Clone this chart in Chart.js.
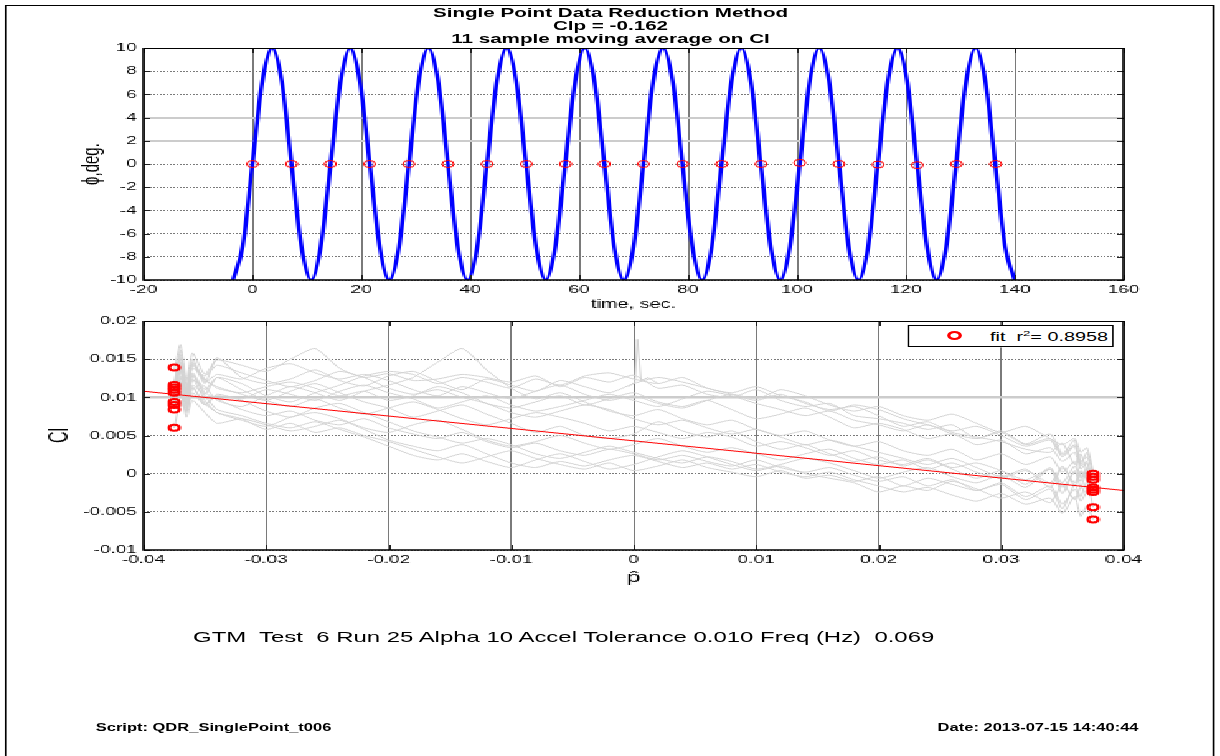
<!DOCTYPE html>
<html>
<head>
<meta charset="utf-8">
<script src="https://cdn.jsdelivr.net/npm/chart.js@4.4.1/dist/chart.umd.min.js"></script>
<style>
  html, body { margin: 0; padding: 0; background: #fff; overflow: hidden; }
  /* the whole sheet is laid out narrow and stretched sideways, like the printed figure */
  #sheet {
    position: absolute; left: 0; top: 0; width: 740px; height: 756px;
    transform: scaleX(1.65); transform-origin: 0 0;
    font-family: "Liberation Sans", Arial, sans-serif; color: #000;
  }
  #frame { position: absolute; left: 3px; top: 5px; width: 731px; height: 800px; border: 1px solid #000; }
  canvas { position: absolute; left: 0; image-rendering: pixelated; }
  #phiChart { top: 0; }
  #clChart { top: 300px; }
  .title { position: absolute; left: 0; top: 7px; width: 740px; text-align: center;
           font-weight: bold; font-size: 12.5px; line-height: 13px; }
  #legend { position: absolute; left: 550px; top: 325px; width: 123px; height: 20px;
            border: 1px solid #000; background: #fff; font-size: 12px; line-height: 20px; }
  #legend .mark { position: absolute; left: 23px; top: 5px; width: 5px; height: 5px;
                  border: 2px solid #f00; border-radius: 50%; }
  #legend .txt { position: absolute; left: 49px; top: 1px; white-space: nowrap; }
  #legend sup { font-size: 8px; line-height: 0; }
  .note { position: absolute; white-space: nowrap; }
  #runInfo { left: 117px; top: 629px; font-size: 14.5px; line-height: 16px; }
  #script { left: 58px; top: 722px; font-size: 10px; font-weight: bold; line-height: 12px; }
  #stamp { right: 50px; top: 722px; font-size: 10px; font-weight: bold; line-height: 12px; }
</style>
</head>
<body>
<div id="sheet">
  <div id="frame"></div>
  <div class="title">Single Point Data Reduction Method<br>Clp = -0.162<br>11 sample moving average on Cl</div>
  <canvas id="phiChart" width="740" height="320" style="width:740px;height:320px"></canvas>
  <canvas id="clChart" width="740" height="300" style="width:740px;height:300px"></canvas>
  <div id="legend"><div class="mark"></div><div class="txt">fit&nbsp; r<sup>2</sup>= 0.8958</div></div>
  <div class="note" id="runInfo">GTM&nbsp; Test&nbsp; 6 Run 25 Alpha 10 Accel Tolerance 0.010 Freq (Hz)&nbsp; 0.069</div>
  <div class="note" id="script">Script: QDR_SinglePoint_t006</div>
  <div class="note" id="stamp">Date: 2013-07-15 14:40:44</div>
</div>

<script>
// ---- roll angle history (top) ----
const phiTime = [
  -3.59, -1.80, 0.00, 1.80, 3.59, 5.39, 7.18, 8.98, 10.77, 12.57,
  14.36, 16.16, 17.95, 19.75, 21.54, 23.34, 25.13, 26.93, 28.72, 30.52,
  32.31, 34.11, 35.90, 37.70, 39.49, 41.29, 43.08, 44.88, 46.67, 48.47,
  50.26, 52.06, 53.85, 55.65, 57.44, 59.24, 61.03, 62.83, 64.62, 66.42,
  68.21, 70.01, 71.80, 73.60, 75.39, 77.19, 78.98, 80.78, 82.57, 84.37,
  86.16, 87.96, 89.75, 91.55, 93.34, 95.14, 96.93, 98.73, 100.52, 102.32,
  104.11, 105.91, 107.70, 109.50, 111.29, 113.09, 114.88, 116.68, 118.47, 120.27,
  122.06, 123.86, 125.65, 127.45, 129.24, 131.04, 132.83, 134.63, 136.42, 138.22,
  140.01
];
const phiDeg = [
  -10, -7.07, 0, 7.07, 10, 7.07, 0, -7.07, -10, -7.07,
  0, 7.07, 10, 7.07, 0, -7.07, -10, -7.07, 0, 7.07,
  10, 7.07, 0, -7.07, -10, -7.07, 0, 7.07, 10, 7.07,
  0, -7.07, -10, -7.07, 0, 7.07, 10, 7.07, 0, -7.07,
  -10, -7.07, 0, 7.07, 10, 7.07, 0, -7.07, -10, -7.07,
  0, 7.07, 10, 7.07, 0, -7.07, -10, -7.07, 0, 7.07,
  10, 7.07, 0, -7.07, -10, -7.07, 0, 7.07, 10, 7.07,
  0, -7.07, -10, -7.07, 0, 7.07, 10, 7.07, 0, -7.07,
  -10
];
// sample points picked at the half cycles
const pickTime = [0, 7.2, 14.3, 21.5, 28.7, 35.9, 43.1, 50.3, 57.5, 64.6,
                  71.8, 79.0, 86.2, 93.4, 100.5, 107.7, 114.9, 122.1, 129.3, 136.5];
const pickPhi = [0, 0, 0, 0, 0, 0, 0, 0, 0, 0,
                 0, 0, 0, 0, 0.1, 0, -0.05, -0.1, 0, 0];

// ---- Cl vs p-hat (bottom) ----
const pHat = [
  -0.0375, -0.0370, -0.0365, -0.0360, -0.0350, -0.0340, -0.0320, -0.0300, -0.0280, -0.0260,
  -0.0240, -0.0220, -0.0200, -0.0180, -0.0160, -0.0140, -0.0120, -0.0100, -0.0080, -0.0060,
  -0.0040, -0.0020, 0, 0.0020, 0.0040, 0.0060, 0.0080, 0.0100, 0.0120, 0.0140,
  0.0160, 0.0180, 0.0200, 0.0220, 0.0240, 0.0260, 0.0280, 0.0300, 0.0320, 0.0340,
  0.0350, 0.0360, 0.0365, 0.0370, 0.0375
];
// moving-average Cl traces, in units of 1e-3
const clTracesMilli = [
  [13.6, 16.9, 12.2, 15.8, 13.0, 14.9, 14.2, 13.4, 15.0, 16.4, 13.8, 12.6, 13.1, 12.2, 12.4, 13.0, 12.6, 12.0, 12.8, 11.4, 12.6, 12.0, 12.9, 11.2, 11.6, 10.4, 10.0, 11.0, 9.6, 8.8, 9.2, 7.6, 7.2, 6.6, 5.8, 6.4, 4.6, 5.6, 3.9, 5.2, 2.6, 4.4, 1.2, 2.8, 0.0],
  [11.2, 15.6, 10.2, 14.4, 11.8, 15.2, 12.6, 11.8, 12.4, 13.6, 12.2, 11.5, 12.8, 13.4, 12.1, 11.0, 12.4, 11.6, 10.8, 12.2, 11.4, 10.6, 11.8, 12.6, 12.0, 11.2, 10.4, 9.6, 10.4, 9.2, 8.4, 8.8, 7.6, 6.2, 6.8, 5.4, 4.8, 4.2, 3.2, 2.8, 4.0, 1.2, 2.6, 0.4, -0.4],
  [10.9, 13.4, 9.6, 14.2, 12.4, 11.2, 10.6, 11.4, 12.0, 11.2, 10.2, 10.8, 9.6, 10.2, 11.4, 10.6, 9.2, 8.6, 9.4, 10.2, 9.0, 9.8, 10.6, 9.4, 8.8, 9.6, 8.4, 7.2, 7.8, 8.6, 7.4, 6.0, 6.6, 5.8, 4.6, 5.2, 3.8, 4.4, 2.6, 3.4, 1.6, 2.8, 0.6, 1.4, -0.8],
  [10.6, 12.8, 9.2, 13.0, 10.4, 12.6, 11.8, 10.2, 9.4, 10.6, 11.6, 12.8, 13.4, 13.0, 11.8, 12.6, 12.0, 11.2, 12.4, 11.6, 12.8, 13.2, 12.4, 11.8, 12.6, 11.2, 10.6, 11.4, 10.2, 9.4, 8.2, 9.0, 8.4, 7.2, 6.4, 5.6, 6.2, 5.0, 3.6, 4.4, 2.2, 3.6, 1.0, 1.6, -1.8],
  [10.4, 14.6, 9.8, 12.8, 10.6, 9.8, 8.4, 7.6, 8.2, 7.0, 6.4, 7.2, 6.0, 5.2, 4.6, 5.4, 4.2, 3.4, 4.0, 3.0, 2.4, 3.2, 2.6, 1.8, 2.4, 1.6, 1.0, 1.8, 0.8, 0.2, 0.8, -0.2, -1.0, -0.4, -1.6, -0.8, -2.2, -1.2, -3.0, -1.6, -4.0, -2.0, -3.6, -2.4, -2.1],
  [9.4, 12.6, 8.6, 11.4, 9.0, 10.2, 9.6, 8.2, 7.4, 8.6, 9.2, 8.0, 6.8, 5.6, 4.8, 4.0, 4.6, 3.8, 2.6, 2.0, 2.8, 3.6, 2.8, 2.0, 1.4, 2.2, 1.6, 0.6, 1.2, 2.0, 1.4, 0.4, -0.6, 0.2, 0.8, -0.4, -1.2, -0.2, -1.8, 0.6, -2.6, 0.4, -1.8, 0.2, -2.4],
  [9.0, 11.8, 8.2, 12.4, 9.6, 8.0, 7.0, 6.2, 7.4, 8.0, 7.2, 6.0, 5.4, 6.4, 7.0, 5.8, 4.4, 3.6, 4.2, 5.0, 4.0, 3.2, 3.8, 4.6, 3.6, 2.8, 3.4, 2.6, 1.8, 2.6, 3.2, 2.0, 1.2, 1.8, 0.6, 1.4, 0.2, -0.6, 0.4, -1.2, 1.0, -1.6, 0.2, -0.8, -4.4],
  [8.6, 10.8, 7.4, 9.6, 8.0, 6.6, 7.2, 6.4, 5.6, 6.2, 7.0, 5.8, 4.4, 3.6, 3.0, 3.8, 2.6, 1.4, 0.8, 1.6, 1.0, 1.8, 2.4, 1.6, 0.8, 1.4, 0.6, 1.2, 0.2, -0.4, 0.2, -0.8, -1.6, -2.4, -1.8, -2.8, -3.6, -2.6, -4.0, -3.2, -5.2, -3.0, -5.6, -4.2, -6.0],
  [6.0, 9.4, 8.2, 10.6, 9.0, 10.4, 9.8, 11.0, 10.4, 9.6, 10.8, 11.6, 10.6, 9.8, 8.6, 9.4, 10.2, 9.0, 8.2, 8.8, 9.6, 10.4, 9.6, 8.8, 9.8, 10.8, 10.2, 9.2, 8.4, 7.6, 8.2, 7.0, 6.4, 5.6, 6.4, 5.2, 4.6, 5.4, 3.8, 4.6, 2.4, 3.8, 1.6, 2.2, 0.2],
  [11.0, 16.2, 11.6, 13.8, 12.8, 14.2, 13.2, 12.2, 11.4, 12.2, 13.4, 12.6, 11.2, 10.4, 11.0, 10.0, 9.2, 8.0, 7.4, 8.2, 9.0, 8.4, 7.2, 6.4, 7.0, 6.0, 5.2, 5.8, 4.8, 3.8, 4.4, 3.6, 2.8, 2.0, 1.2, 2.0, 0.8, -0.4, 0.6, -1.8, 0.8, -1.2, 0.4, -0.6, 0.1],
  [12.0, 15.2, 11.0, 14.6, 12.2, 11.4, 10.4, 9.6, 10.8, 11.8, 10.6, 9.4, 8.6, 7.4, 8.2, 9.0, 7.8, 6.6, 5.4, 6.2, 5.0, 4.6, 5.2, 6.8, 5.6, 4.8, 5.6, 4.2, 3.2, 3.8, 2.6, 1.6, 2.2, 1.0, 1.8, 0.6, -0.6, 0.4, -1.4, 0.8, -1.8, 0.2, -1.0, 0.6, -0.5],
  [9.2, 13.8, 10.6, 12.2, 11.4, 9.6, 8.8, 10.2, 11.4, 10.6, 9.6, 10.8, 11.6, 12.6, 14.6, 16.4, 13.6, 11.2, 9.8, 10.6, 9.4, 8.2, 7.6, 8.4, 7.2, 6.4, 7.0, 5.8, 5.0, 5.6, 4.4, 3.6, 4.2, 3.0, 2.4, 3.2, 1.8, 2.6, 1.2, 2.2, 0.2, 1.6, -0.4, 0.8, -0.2],
  [10.2, 12.0, 9.0, 11.6, 10.2, 8.4, 7.6, 6.6, 6.0, 6.8, 5.8, 4.8, 3.6, 2.4, 1.8, 2.6, 1.6, 0.8, 1.8, 2.6, 1.6, 0.6, 1.2, 2.2, 3.0, 2.2, 1.2, 0.4, 1.0, 0.0, -0.6, -1.2, -2.4, -1.6, -2.2, -1.0, -2.0, -3.2, -2.4, -3.8, -1.4, -3.4, -1.8, -2.6, -2.4],
  [10.8, 14.0, 10.0, 13.2, 11.0, 12.6, 11.0, 9.6, 8.8, 9.8, 8.6, 7.8, 8.6, 9.4, 8.4, 7.2, 6.4, 7.2, 8.0, 7.4, 6.6, 5.6, 6.2, 5.4, 4.6, 5.4, 4.8, 3.6, 4.2, 3.4, 2.4, 3.0, 1.8, 1.2, 2.0, 0.8, 1.4, 0.4, -0.8, 0.6, -1.2, 1.0, -0.6, 0.4, -1.0],
  [11.4, 13.6, 10.8, 15.0, 12.0, 13.0, 12.4, 13.8, 14.4, 13.2, 12.4, 13.0, 12.2, 11.0, 10.2, 11.4, 10.6, 9.8, 10.8, 11.6, 10.4, 9.6, 10.2, 9.2, 8.6, 9.6, 10.4, 9.8, 11.0, 10.2, 9.0, 8.2, 8.8, 7.6, 7.0, 7.8, 6.6, 5.4, 6.2, 4.6, 3.8, 4.6, 2.8, 3.4, 0.4],
  [8.8, 10.4, 8.0, 11.2, 9.2, 8.0, 7.2, 5.8, 6.6, 5.4, 6.0, 5.0, 4.2, 3.2, 2.2, 1.4, 2.2, 3.0, 2.0, 1.2, 0.6, 1.4, 0.4, 1.0, 1.8, 0.8, 0.2, -0.4, 0.4, -0.6, -0.2, -1.0, -0.4, -1.6, -0.6, -1.4, -2.2, -1.4, -3.4, -2.0, -4.6, -1.4, -3.0, -1.0, -1.9]
];
// one trace has a single-sample spike just right of zero
const spikeP = [-0.0004, 0.0001, 0.0003, 0.0006, 0.0012, 0.0020];
const spikeClMilli = [11.4, 12.0, 17.6, 12.2, 12.6, 11.8];

// end-point averages at p-hat = -/+ 0.0375
const leftP = -0.0375;
const leftCl = [0.0139, 0.0116, 0.0113, 0.0110, 0.0106, 0.0094, 0.0090, 0.0084, 0.0060];
const rightP = 0.0375;
const rightCl = [0.0000, -0.0004, -0.0008, -0.0018, -0.0021, -0.0024, -0.0044, -0.0060];

// least squares fit line (slope = Clp)
const fitP = [-0.04, 0.04];
const fitCl = [0.0108, -0.0022];

// ---- styling ----
const FONT = 'Liberation Sans';
const TICK_FONT = { family: FONT, size: 11.5 };
const GRID_DARK = '#7a7a7a';
const GRID_LIGHT = '#cccccc';

function pts(xs, ys) {
  return xs.map((x, i) => ({ x: x, y: ys[i] }));
}

// MATLAB-style box with inward tick marks on all four sides
const boxAxes = {
  id: 'boxAxes',
  afterDatasetsDraw(chart) {
    const { ctx, chartArea: a, scales } = chart;
    ctx.save();
    ctx.strokeStyle = '#222';
    ctx.lineWidth = 1;
    ctx.beginPath();
    scales.x.ticks.forEach(t => {
      const px = Math.round(scales.x.getPixelForValue(t.value)) + 0.5;
      ctx.moveTo(px, a.bottom); ctx.lineTo(px, a.bottom - 5);
      ctx.moveTo(px, a.top); ctx.lineTo(px, a.top + 5);
    });
    scales.y.ticks.forEach(t => {
      const py = Math.round(scales.y.getPixelForValue(t.value)) + 0.5;
      ctx.moveTo(a.left, py); ctx.lineTo(a.left + 4, py);
      ctx.moveTo(a.right, py); ctx.lineTo(a.right - 4, py);
    });
    ctx.stroke();
    ctx.strokeStyle = '#000';
    ctx.lineWidth = 1;
    ctx.beginPath();
    ctx.moveTo(a.left, a.top + 0.5); ctx.lineTo(a.right, a.top + 0.5);
    ctx.stroke();
    ctx.lineWidth = 1.6;
    ctx.beginPath();
    ctx.moveTo(a.left, a.top); ctx.lineTo(a.left, a.bottom); ctx.lineTo(a.right, a.bottom); ctx.lineTo(a.right, a.top);
    ctx.stroke();
    ctx.restore();
  }
};

function baseOptions(xAxis, yAxis, padTop) {
  return {
    responsive: false,
    animation: false,
    devicePixelRatio: 1,
    layout: { padding: { left: 0, right: 59, top: padTop, bottom: 0 }, autoPadding: false },
    plugins: { legend: { display: false }, tooltip: { enabled: false } },
    scales: { x: xAxis, y: yAxis }
  };
}

// ---- top: phi vs time ----
new Chart(document.getElementById('phiChart'), {
  type: 'line',
  data: {
    datasets: [
      {
        data: pts(pickTime, pickPhi),
        showLine: false,
        pointStyle: 'circle',
        pointRadius: 3.5,
        pointBorderWidth: 1,
        pointBorderColor: '#ff0000',
        pointBackgroundColor: 'rgba(0,0,0,0)',
        order: 0
      },
      {
        data: pts(phiTime, phiDeg),
        borderColor: '#0000ff',
        borderWidth: 2.5,
        pointRadius: 0,
        cubicInterpolationMode: 'monotone',
        fill: false,
        order: 1
      }
    ]
  },
  options: baseOptions(
    {
      type: 'linear', min: -20, max: 160,
      afterFit(s) { s.height = 40; },
      ticks: { stepSize: 20, font: TICK_FONT, color: '#000', padding: 3, maxRotation: 0, autoSkip: false },
      grid: { color: GRID_DARK, lineWidth: 1, drawTicks: false },
      border: { display: false },
      title: { display: true, text: 'time, sec.', color: '#000', font: { family: FONT, size: 12 }, padding: { top: 0, bottom: 8 } }
    },
    {
      type: 'linear', min: -10, max: 10,
      afterFit(s) { s.width = 87; },
      ticks: { stepSize: 2, font: TICK_FONT, color: '#000', padding: 4, autoSkip: false },
      grid: {
        drawTicks: false,
        color: c => (c.tick && (c.tick.value === 2 || c.tick.value === 4)) ? GRID_LIGHT : GRID_DARK,
        lineWidth: c => (c.tick && (c.tick.value === 2 || c.tick.value === 4)) ? 2 : 1
      },
      border: {
        display: false,
        dash: c => (c.tick && (c.tick.value === 2 || c.tick.value === 4)) ? [] : [1, 1]
      },
      title: { display: true, text: 'ϕ,deg.', color: '#000', font: { family: FONT, size: 15 }, padding: { top: 47, bottom: 0 } }
    },
    48
  ),
  plugins: [boxAxes]
});

// ---- bottom: Cl vs p-hat ----
const clDatasets = [
  {
    data: leftCl.map(v => ({ x: leftP, y: v })),
    showLine: false, pointStyle: 'circle', pointRadius: 3, pointBorderWidth: 2,
    pointBorderColor: '#ff0000', pointBackgroundColor: 'rgba(0,0,0,0)', order: 0
  },
  {
    data: rightCl.map(v => ({ x: rightP, y: v })),
    showLine: false, pointStyle: 'circle', pointRadius: 3, pointBorderWidth: 2,
    pointBorderColor: '#ff0000', pointBackgroundColor: 'rgba(0,0,0,0)', order: 0
  },
  {
    data: pts(fitP, fitCl),
    borderColor: '#ff0000', borderWidth: 1, pointRadius: 0, order: 1
  }
];
clTracesMilli.forEach(tr => {
  clDatasets.push({
    data: pts(pHat, tr.map(v => v / 1000)),
    borderColor: '#d3d3d3', borderWidth: 1, pointRadius: 0, tension: 0.2, order: 2
  });
});
clDatasets.push({
  data: pts(spikeP, spikeClMilli.map(v => v / 1000)),
  borderColor: '#d3d3d3', borderWidth: 1, pointRadius: 0, order: 2
});

const isTen = c => c.tick && Math.abs(c.tick.value - 0.01) < 1e-9;

new Chart(document.getElementById('clChart'), {
  type: 'line',
  data: { datasets: clDatasets },
  options: baseOptions(
    {
      type: 'linear', min: -0.04, max: 0.04,
      afterFit(s) { s.height = 50; },
      ticks: { stepSize: 0.01, font: TICK_FONT, color: '#000', padding: 3, maxRotation: 0, autoSkip: false,
               callback: v => String(+v.toFixed(3)) },
      grid: { color: GRID_DARK, lineWidth: 1, drawTicks: false },
      border: { display: false },
      title: { display: true, text: 'p\u0302', color: '#000', font: { family: FONT, size: 15 }, padding: { top: 0, bottom: 13 } }
    },
    {
      type: 'linear', min: -0.01, max: 0.02,
      afterFit(s) { s.width = 87; },
      ticks: { stepSize: 0.005, font: TICK_FONT, color: '#000', padding: 4, autoSkip: false,
               callback: v => String(+v.toFixed(3)) },
      grid: {
        drawTicks: false,
        color: c => isTen(c) ? GRID_LIGHT : GRID_DARK,
        lineWidth: c => isTen(c) ? 2.5 : 1
      },
      border: { display: false, dash: c => isTen(c) ? [] : [1, 1] },
      title: { display: true, text: 'Cl', color: '#000', font: { family: FONT, size: 16 }, padding: { top: 27, bottom: 0 } }
    },
    21
  ),
  plugins: [boxAxes]
});
</script>
</body>
</html>
